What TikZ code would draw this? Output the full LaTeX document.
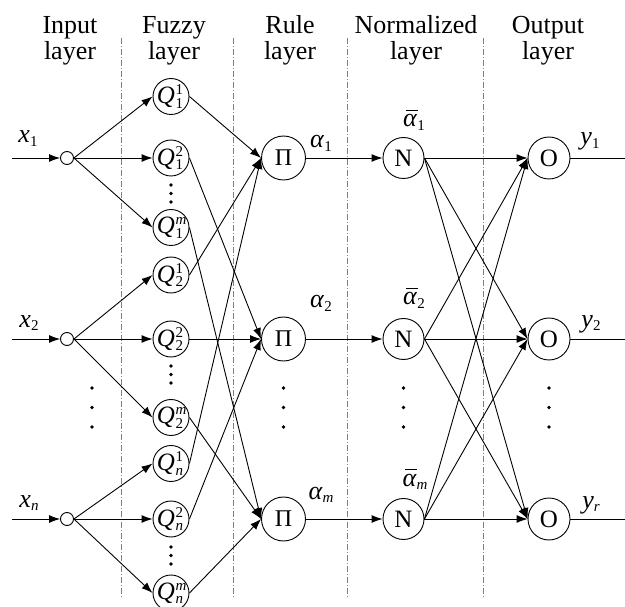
\documentclass[tikz,border=0pt]{standalone}
\usepackage{fontspec}
\setmainfont{Liberation Serif}
\usetikzlibrary{arrows.meta}
\newcommand\scr[1]{{\fontsize{15}{15}\selectfont #1}}
\newcommand\lsub[1]{\raisebox{-3.5pt}{\scr{#1}}}
\newcommand\Qsym[2]{\kern-2pt\textit{Q}\kern0.8pt\rlap{\raisebox{9pt}{\scr{#2}}}\raisebox{-4.5pt}{\scr{#1}}}
\newcommand\albar{\rlap{\kern2.5pt\raisebox{16pt}{\rule{12pt}{0.9pt}}}\textit{α}}
\tikzset{
  base/.style={circle,draw,line width=0.9pt,inner sep=0pt},
  fz/.style={base,minimum size=36pt,font=\fontsize{25}{25}\selectfont},
  rl/.style={base,minimum size=44pt,font=\fontsize{24}{24}\selectfont},
  nm/.style={base,minimum size=41pt,font=\fontsize{25}{25}\selectfont},
  ou/.style={base,minimum size=42pt,font=\fontsize{25}{25}\selectfont},
  inp/.style={base,minimum size=13pt},
  arr/.style={-{Latex[length=11pt,width=8pt]},line width=0.9pt},
  ln/.style={line width=0.9pt},
  sepl/.style={gray,line width=0.9pt,dash pattern=on 6pt off 2pt on 1pt off 2pt},
  dotn/.style={circle,fill,inner sep=0pt,minimum size=3.8pt},
  hdr/.style={anchor=base,font=\fontsize{26}{26}\selectfont},
  lab/.style={anchor=base,font=\fontsize{26}{26}\selectfont}
}
\begin{document}
\begin{tikzpicture}[x=1pt,y=-1pt]
\useasboundingbox (0,0) rectangle (625,607);
% headers
\node[hdr] (h1a) at (70,34) {Input};
\node[hdr] (h1b) at (70,60) {layer};
\node[hdr] (h2a) at (174,34) {Fuzzy};
\node[hdr] (h2b) at (174,60) {layer};
\node[hdr] (h3a) at (290,34) {Rule};
\node[hdr] (h3b) at (290,60) {layer};
\node[hdr] (h4a) at (416,34) {Normalized};
\node[hdr] (h4b) at (416,60) {layer};
\node[hdr] (h5a) at (548,34) {Output};
\node[hdr] (h5b) at (548,60) {layer};
% separators
\foreach \i/\x in {1/121,2/233,3/347,4/483}{
  \coordinate (st\i) at (\x,38);
  \coordinate (sb\i) at (\x,597);
  \draw[sepl] (st\i) -- (sb\i);
}
% input nodes
\node[inp] (in1) at (67,158) {};
\node[inp] (in2) at (67,339) {};
\node[inp] (in3) at (67,519) {};
\coordinate (s1) at (12,158);
\coordinate (s2) at (12,339);
\coordinate (s3) at (12,519);
% fuzzy nodes
\node[fz] (q11) at (171,96.5) {\Qsym{1}{1}};
\node[fz] (q12) at (171,158) {\Qsym{1}{2}};
\node[fz] (q1m) at (171,227.5) {\Qsym{1}{\textit{m}}};
\node[fz] (q21) at (171,275) {\Qsym{2}{1}};
\node[fz] (q22) at (171,339) {\Qsym{2}{2}};
\node[fz] (q2m) at (171,417.5) {\Qsym{2}{\textit{m}}};
\node[fz] (qn1) at (171,463.5) {\Qsym{\textit{n}}{1}};
\node[fz] (qn2) at (171,519) {\Qsym{\textit{n}}{2}};
\node[fz] (qnm) at (171,593) {\Qsym{\textit{n}}{\textit{m}}};
% rule nodes
\node[rl] (p1) at (283.5,158) {Π};
\node[rl] (p2) at (283.5,339) {Π};
\node[rl] (p3) at (283.5,519) {Π};
% normalized nodes
\node[nm] (n1) at (403.5,158) {N};
\node[nm] (n2) at (403.5,339) {N};
\node[nm] (n3) at (403.5,519) {N};
% output nodes
\node[ou] (o1) at (549,158) {O};
\node[ou] (o2) at (549,339) {O};
\node[ou] (o3) at (549,519) {O};
\coordinate (e1) at (625,158);
\coordinate (e2) at (625,339);
\coordinate (e3) at (625,519);
% input arrows
\foreach \i in {1,2,3}{ \draw[arr] (s\i) -- (in\i.west); }
\draw[arr] (in1.east) -- (q11.west);
\draw[arr] (in1.east) -- (q12.west);
\draw[arr] (in1.east) -- (q1m.west);
\draw[arr] (in2.east) -- (q21.west);
\draw[arr] (in2.east) -- (q22.west);
\draw[arr] (in2.east) -- (q2m.west);
\draw[arr] (in3.east) -- (qn1.west);
\draw[arr] (in3.east) -- (qn2.west);
\draw[arr] (in3.east) -- (qnm.west);
% fuzzy to rule
\draw[arr] (q11.east) -- (p1.west);
\draw[arr] (q21.east) -- (p1.west);
\draw[arr] (qn1.east) -- (p1.west);
\draw[arr] (q12.east) -- (p2.west);
\draw[arr] (q22.east) -- (p2.west);
\draw[arr] (qn2.east) -- (p2.west);
\draw[arr] (q1m.east) -- (p3.west);
\draw[arr] (q2m.east) -- (p3.west);
\draw[arr] (qnm.east) -- (p3.west);
% rule to normalized
\foreach \i in {1,2,3}{ \draw[arr] (p\i.east) -- (n\i.west); }
% normalized to output
\foreach \i in {1,2,3}{ \foreach \j in {1,2,3}{ \draw[arr] (n\i.east) -- (o\j.west); } }
% outputs
\foreach \i in {1,2,3}{ \draw[ln] (o\i.east) -- (e\i); }
% labels
\node[lab] (lx1) at (28,143) {\textit{x}\lsub{1}};
\node[lab] (lx2) at (29,327) {\textit{x}\lsub{2}};
\node[lab] (lx3) at (29,507) {\textit{x}\lsub{\textit{n}}};
\node[lab] (la1) at (321,148) {\textit{α}\lsub{1}};
\node[lab] (la2) at (321,308) {\textit{α}\lsub{2}};
\node[lab] (la3) at (321,499) {\textit{α}\lsub{\textit{m}}};
\node[lab] (lb1) at (414,127) {\albar\lsub{1}};
\node[lab] (lb2) at (414,305) {\albar\lsub{2}};
\node[lab] (lb3) at (415,486) {\albar\lsub{\textit{m}}};
\node[lab] (ly1) at (590,145) {\textit{y}\lsub{1}};
\node[lab] (ly2) at (591,327) {\textit{y}\lsub{2}};
\node[lab] (ly3) at (591,508) {\textit{y}\lsub{\textit{r}}};
% dots
\foreach \x/\c in {92/a,283.5/b,403.5/c,549/d}{
  \foreach \y/\k in {388/1,407.5/2,427/3}{ \node[dotn] (d\c\k) at (\x,\y) {}; }
}
\foreach \y/\k in {185/1,193.5/2,202/3,366/4,374.5/5,383/6,547/7,555.5/8,564/9}{
  \node[dotn] (df\k) at (171,\y) {};
}
\end{tikzpicture}
\end{document}
